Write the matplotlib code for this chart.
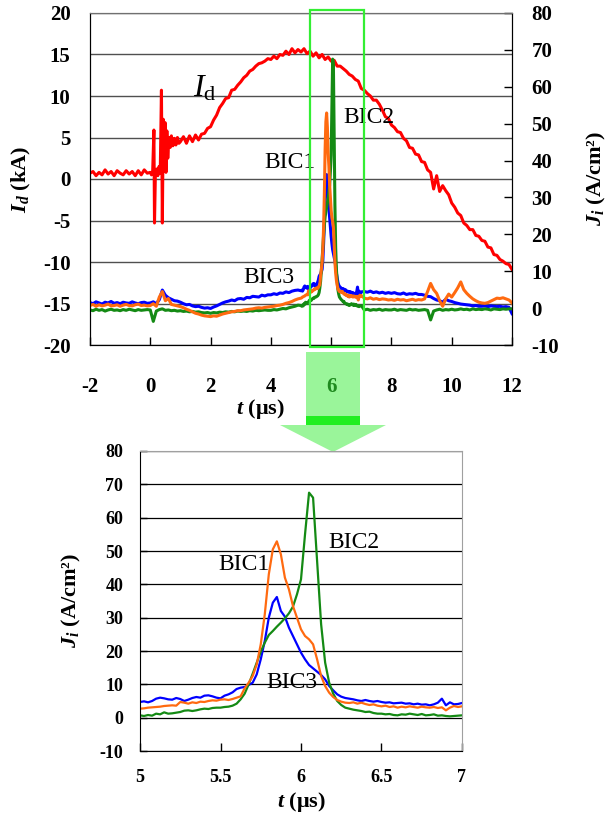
import numpy as np
import matplotlib
matplotlib.use('Agg')
import matplotlib.pyplot as plt
from matplotlib.patches import Rectangle, Polygon
import matplotlib.transforms as mtransforms

plt.rcParams['font.family'] = ['Liberation Serif', 'DejaVu Serif']
plt.rcParams['mathtext.fontset'] = 'custom'
plt.rcParams['mathtext.rm'] = 'Liberation Serif'
plt.rcParams['mathtext.it'] = 'Liberation Serif:italic'
plt.rcParams['mathtext.bf'] = 'Liberation Serif:bold'
plt.rcParams['mathtext.bfit'] = 'Liberation Serif:bold:italic'
plt.rcParams['axes.unicode_minus'] = False

# ---- discharge current I_d (kA), top panel ----
t_id = np.concatenate([
    np.linspace(-2.0, -0.1, 20),
    [0.0, 0.04, 0.08, 0.12, 0.14, 0.17, 0.21, 0.25, 0.29, 0.33, 0.37, 0.40, 0.43,
     0.46, 0.49, 0.52, 0.55, 0.58, 0.62, 0.66, 0.70, 0.75, 0.80, 0.85, 0.90, 0.95],
    np.linspace(1.0, 12.0, 111)])
id_ka = np.array([
    0.7, 0.9, 0.4, 0.8, 0.5, 1.1, 0.6, 0.9, 0.4, 1.0, 0.7, 0.5, 1.0, 0.6, 0.9, 0.4, 1.0, 0.5, 1.1, 0.7,
    0.8, 0.5, 1.0, 5.9, -5.3, 0.8, 1.2, 0.4, 1.5, 0.7, 10.7, -5.3, 7.2,
    2.0, 6.8, 0.8, 5.8, 2.5, 5.0, 3.8, 5.2, 4.0, 4.9, 4.1, 5.0, 4.3,
    4.5, 5.1, 4.3, 5.2, 4.5, 5.3, 4.7, 5.4, 5.5, 6.1,
    6.3, 7.1, 7.7, 8.6, 9.1, 9.7, 9.8, 10.7, 10.8, 11.3,
    11.7, 12.2, 12.5, 13.0, 13.2, 13.6, 13.9, 14.0, 14.2, 14.5,
    14.4, 14.8, 14.5, 15.0, 14.9, 15.4, 15.0, 15.7, 15.2, 15.6,
    15.3, 15.7, 15.1, 15.4, 14.8, 15.2, 14.6, 15.0, 14.4, 14.7,
    14.2, 14.3, 13.6, 13.6, 13.3, 13.0, 12.6, 12.4, 12.0, 11.8,
    10.9, 10.7, 10.3, 10.0, 9.5, 9.5, 9.0, 8.3, 7.5, 7.3,
    6.5, 6.2, 5.7, 5.6, 4.9, 4.6, 3.8, 3.7, 3.0, 2.9,
    2.1, 2.0, 1.1, 0.8, -1.2, 0.4, -1.5, -0.8, -1.4, -1.9,
    -2.9, -3.4, -4.1, -4.4, -5.3, -5.6, -6.1, -6.1, -6.8, -6.9,
    -7.4, -7.5, -8.2, -8.3, -9.1, -9.2, -9.7, -9.9, -10.2, -10.3,
    -10.9])

# ---- ion current density J_i (A/cm2), fine data 5-7 us (bottom panel) ----
t_fine = np.linspace(5.0, 7.0, 81)
bic1_fine = [  # orange
    2.7, 2.8, 3.0, 3.1, 3.2, 3.3, 3.5, 3.6, 3.7, 3.6,
    4.7, 4.5, 4.2, 4.6, 4.4, 4.8, 4.7, 5.0, 5.2, 5.1,
    5.4, 5.5, 5.3, 5.6, 6.0, 6.4, 8.8, 10.5, 12.5, 16.0,
    22.0, 31.0, 43.0, 50.5, 52.9, 49.0, 42.0, 38.5, 33.5, 30.0,
    26.5, 24.5, 23.5, 22.0, 17.5, 12.5, 9.5, 7.5, 6.2, 5.3,
    4.8, 4.5, 4.4, 4.6, 4.2, 4.5, 4.1, 3.8, 4.0, 3.6,
    3.4, 3.6, 3.2, 3.4, 3.0, 3.3, 3.1, 3.4, 3.2, 3.0,
    3.3, 3.1, 3.0, 3.2, 2.9, 3.1, 2.2, 3.0, 3.5, 3.2,
    3.4]
bic2_fine = [  # green
    0.7, 0.5, 0.8, 0.6, 1.2, 1.0, 1.6, 1.2, 1.3, 1.5,
    1.7, 2.1, 2.2, 2.0, 2.2, 2.5, 2.7, 2.6, 2.9, 3.0,
    3.0, 3.2, 3.3, 3.6, 4.2, 5.5, 7.2, 10.0, 13.2, 16.5,
    19.8, 22.5, 24.8, 26.0, 27.3, 28.5, 29.8, 31.3, 33.3, 37.0,
    41.5, 55.0, 67.5, 66.0, 47.0, 28.0, 16.5, 10.5, 7.2, 5.0,
    3.8, 3.0, 2.7, 2.4, 2.2, 2.0, 1.7, 1.8, 1.4, 1.2,
    1.2, 1.0, 1.1, 0.8, 0.7, 1.0, 0.9, 1.2, 1.0, 0.8,
    1.1, 0.7, 0.8, 1.0, 0.6, 0.7, 0.5, 0.4, 0.5, 0.6,
    0.7]
bic3_fine = [  # blue
    4.7, 4.9, 4.6, 5.0, 5.7, 6.0, 5.8, 5.5, 5.4, 5.9,
    5.6, 5.0, 5.4, 5.9, 6.2, 6.0, 6.6, 6.7, 6.4, 6.0,
    5.8, 6.6, 7.0, 7.6, 8.6, 9.0, 9.2, 9.8, 10.5, 13.0,
    17.5, 23.0, 30.0, 34.5, 36.2, 32.0, 30.3, 27.0, 24.5, 22.0,
    19.5, 17.5, 15.8, 14.8, 13.8, 12.8, 11.5, 9.5, 8.2, 7.0,
    6.3, 5.9, 5.7, 5.5, 5.2, 5.0, 5.3, 5.0, 4.8, 5.0,
    4.7, 4.5, 4.6, 4.3, 4.4, 4.5, 4.2, 4.3, 4.0, 4.2,
    3.9, 4.0, 3.7, 4.0, 4.5, 5.7, 3.7, 4.6, 4.0, 4.1,
    4.4]

# ---- ion current density outside 5-7 us (top panel) ----
t_pre = np.linspace(-2.0, 4.9, 70)
t_post = np.linspace(7.1, 12.0, 50)
bic1_pre = [
    0.7, 1.0, 0.5, 0.9, 0.6, 0.8, 1.1, 0.6, 0.7, 0.9, 0.5, 0.8, 1.0, 0.7, 0.6, 0.9, 1.1, 0.7, 0.8, 0.6,
    0.7, 1.2, 0.5, 3.0, 4.5, 2.0, 2.6, 1.0, 0.8, 0.6,
    0.4, 0.1, -0.3, -0.6, -1.0, -1.4, -1.6, -1.9, -2.1, -2.2,
    -2.3, -2.1, -2.2, -1.9, -1.6, -1.4, -1.2, -1.0, -0.9, -0.7,
    -0.7, -0.5, -0.4, -0.3, -0.2, 0.0, 0.1, 0.0, 0.2, 0.3,
    0.4, 0.5, 0.7, 0.8, 1.0, 1.3, 1.5, 1.8, 2.2, 2.5]
bic1_post = [
    2.7, 2.5, 2.8, 2.4, 2.6, 2.3, 2.5, 2.4, 2.2,
    2.3, 2.1, 2.4, 2.2, 2.3, 2.0, 2.2, 2.4, 2.1, 2.3,
    2.2, 2.5, 4.5, 6.7, 5.0, 4.0, 2.0, 0.5, 2.5, 3.8,
    3.0, 4.2, 5.5, 7.1, 5.0, 4.0, 3.2, 2.5, 2.0, 1.6,
    1.4, 1.3, 1.5, 1.9, 2.3, 2.7, 2.6, 2.8, 2.5, 2.2,
    1.4]
bic2_pre = [
    -0.5, -0.7, -0.3, -0.6, -0.4, -0.8, -0.5, -0.3, -0.6, -0.5, -0.7, -0.4, -0.6, -0.3, -0.5, -0.7, -0.4, -0.6, -0.5, -0.4,
    -0.5, -3.6, -0.8, -0.4, -0.2, -0.6, -0.5, -0.7, -0.6, -0.8,
    -0.7, -0.9, -0.8, -1.0, -0.9, -1.1, -1.0, -1.2, -1.3, -1.2,
    -1.4, -1.2, -1.3, -1.1, -1.2, -1.0, -1.1, -0.9, -1.0, -0.8,
    -0.9, -0.8, -0.9, -0.7, -0.8, -0.6, -0.7, -0.6, -0.5, -0.6,
    -0.6, -0.4, -0.5, -0.3, -0.1, -0.2, 0.1, 0.3, 0.5, 0.8]
bic2_post = [
    -0.5, -0.3, -0.6, -0.4, -0.5, -0.3, -0.6, -0.4, -0.5,
    -0.5, -0.3, -0.6, -0.4, -0.5, -0.6, -0.3, -0.5, -0.4, -0.6,
    -0.5, -0.4, -0.6, -3.2, -0.8, -0.5, -0.3, -0.6, -0.4, -0.5,
    -0.3, -0.5, -0.4, -0.2, -0.4, -0.3, -0.5, -0.2, -0.4, -0.3,
    -0.4, -0.2, -0.3, -0.5, -0.2, -0.3, -0.4, -0.2, -0.3, -0.2,
    -0.2]
bic3_pre = [
    1.5, 1.2, 1.7, 1.4, 1.1, 1.6, 1.4, 1.8, 1.3, 1.5, 1.2, 1.6, 1.4, 1.3, 1.7, 1.4, 1.2, 1.5, 1.6, 1.3,
    1.4, 1.7, 1.2, 2.3, 4.9, 3.5, 2.8, 2.4, 2.0, 1.9,
    1.6, 1.2, 0.9, 1.0, 0.6, 0.4, 0.5, 0.2, 0.0, 0.1,
    -0.1, 0.3, 0.6, 1.0, 1.4, 1.7, 1.9, 2.2, 2.0, 2.5,
    2.6, 2.4, 2.9, 2.8, 3.2, 3.1, 3.0, 3.5, 3.3, 3.6,
    3.6, 3.9, 3.7, 4.1, 4.0, 4.4, 4.2, 4.6, 4.8, 4.9]
bic3_post = [
    4.5, 4.3, 4.6, 4.2, 4.4, 4.1, 4.3, 4.0, 4.2,
    4.0, 4.2, 3.9, 3.8, 4.1, 3.7, 3.9, 3.8, 4.0, 3.7,
    3.7, 3.5, 3.2, 3.1, 2.6, 2.2, 2.0, 1.6, 2.4, 2.0,
    1.8, 1.5, 1.3, 1.1, 1.0, 0.9, 0.8, 0.6, 0.7, 0.5,
    0.5, 0.6, 0.4, 0.6, 0.5, 0.4, 0.5, 0.3, 0.4, 0.2,
    -1.5]

t_top = np.concatenate([t_pre, t_fine, t_post])
bic1_top = np.concatenate([bic1_pre, bic1_fine, bic1_post])
bic2_top = np.concatenate([bic2_pre, bic2_fine, bic2_post])
bic3_top = np.concatenate([bic3_pre, bic3_fine, bic3_post])

zoom_t0, zoom_t1 = 5.3, 7.1   # green frame in the top panel

c_red, c_blue, c_orange, c_green = '#ff0000', '#0000ff', '#ff6a10', '#148a14'
lime = '#33ee33'
light = '#9af59a'

W, H = 608, 816
fig = plt.figure(figsize=(W / 100, H / 100), dpi=100)
fig.patch.set_facecolor('white')

# ================= top panel =================
ax = fig.add_axes([90 / W, 1 - 345 / H, 422 / W, 332 / H])
ax2 = ax.twinx()
ax.plot(t_id, id_ka, color=c_red, lw=2.2, zorder=3)
ax2.plot(t_top, bic3_top, color=c_blue, lw=2.2)
ax2.plot(t_top, bic2_top, color=c_green, lw=2.2)
ax2.plot(t_top, bic1_top, color=c_orange, lw=2.2)

ax.set_xlim(-2, 12)
ax.set_ylim(-20, 20)
ax2.set_ylim(-10, 80)
ax.set_xticks(np.arange(-2, 13, 2))
ax.set_yticks(np.arange(-20, 21, 5))
ax2.set_yticks(np.arange(-10, 81, 10))
ax.yaxis.grid(True, color='#505050', lw=1.0)
ax.set_axisbelow(True)

for a in (ax, ax2):
    for lab in a.get_xticklabels() + a.get_yticklabels():
        lab.set_fontweight('bold')
ax.tick_params(axis='x', direction='in', length=6, width=1, pad=23, labelsize=15)
ax.tick_params(axis='y', direction='in', length=0, pad=14, labelsize=15)
ax2.tick_params(axis='y', direction='in', length=6, width=1, pad=14, labelsize=15)
ax.get_xticklabels()[4].set_color('#1f8a1f')
ax.spines['top'].set_color('#707070')
ax2.spines['top'].set_color('#707070')

ax.set_xlabel(r'$\mathbfit{t}$ (μs)', fontsize=16, fontweight='bold')
ax.xaxis.set_label_coords(0.405, -0.158)
ax.set_ylabel(r'$\mathbfit{I}_{\mathbfit{d}}$ (kA)', fontsize=16, fontweight='bold')
ax.yaxis.set_label_coords(-0.135, 0.5)
ax2.set_ylabel(r'$\mathbfit{J}_{\mathbfit{i}}$ (A/cm²)', fontsize=16, fontweight='bold',
               rotation=90)
ax2.yaxis.set_label_coords(1.172, 0.5)

ax.text(1.82, 10.9, r'$I_{\mathrm{d}}$', fontsize=23, ha='center', va='center')
ax2.text(4.64, 39.6, 'BIC1', fontsize=17, ha='center', va='center')
ax2.text(7.26, 51.8, 'BIC2', fontsize=17, ha='center', va='center')
ax2.text(3.94, 8.2, 'BIC3', fontsize=17, ha='center', va='center')

# green frame marking the zoomed range
tr = mtransforms.blended_transform_factory(ax2.transData, ax2.transAxes)
ax2.add_patch(Rectangle((zoom_t0, -0.006), zoom_t1 - zoom_t0, 1.015, transform=tr,
                        fill=False, edgecolor=lime, lw=1.6, clip_on=False, zorder=5))

# arrow from top panel to bottom panel
fig.patches.append(Rectangle((306 / W, 1 - 416 / H), 54 / W, 64 / H,
                             transform=fig.transFigure, facecolor=light,
                             edgecolor='none', zorder=-1))
fig.patches.append(Rectangle((306 / W, 1 - 425 / H), 54 / W, 9 / H,
                             transform=fig.transFigure, facecolor='#22ee22',
                             edgecolor='none', zorder=-1))
fig.patches.append(Polygon([(280 / W, 1 - 425 / H), (386 / W, 1 - 425 / H),
                            (333 / W, 1 - 452 / H)], closed=True,
                           transform=fig.transFigure, facecolor=light,
                           edgecolor='none', zorder=-1))

# ================= bottom panel =================
bx = fig.add_axes([140 / W, 1 - 751 / H, 322 / W, 300 / H])
bx.plot(t_fine, bic3_fine, color=c_blue, lw=1.6)
bx.plot(t_fine, bic2_fine, color=c_green, lw=1.6)
bx.plot(t_fine, bic1_fine, color=c_orange, lw=1.6)
bx.set_xlim(5, 7)
bx.set_ylim(-10, 80)
bx.set_xticks([5, 5.5, 6, 6.5, 7])
bx.set_xticklabels(['5', '5.5', '6', '6.5', '7'])
bx.set_yticks(np.arange(-10, 81, 10))
bx.yaxis.grid(True, color='black', lw=0.9)
bx.set_axisbelow(True)
for lab in bx.get_xticklabels() + bx.get_yticklabels():
    lab.set_fontweight('bold')
bx.tick_params(axis='x', direction='in', length=6, width=1, pad=13, labelsize=13)
bx.tick_params(axis='y', direction='in', length=5, width=1, pad=12, labelsize=13)
bx.spines['top'].set_color('#a0a0a0')
bx.spines['right'].set_color('#a0a0a0')
bx.set_xlabel(r'$\mathbfit{t}$ (μs)', fontsize=16, fontweight='bold')
bx.xaxis.set_label_coords(0.5, -0.13)
bx.set_ylabel(r'$\mathbfit{J}_{\mathbfit{i}}$ (A/cm²)', fontsize=16, fontweight='bold')
bx.yaxis.set_label_coords(-0.177, 0.5)

bx.text(5.643, 45.8, 'BIC1', fontsize=17, ha='center', va='center')
bx.text(6.329, 52.7, 'BIC2', fontsize=17, ha='center', va='center')
bx.text(5.941, 10.5, 'BIC3', fontsize=17, ha='center', va='center')

fig.savefig('out.png', dpi=100, facecolor='white')
